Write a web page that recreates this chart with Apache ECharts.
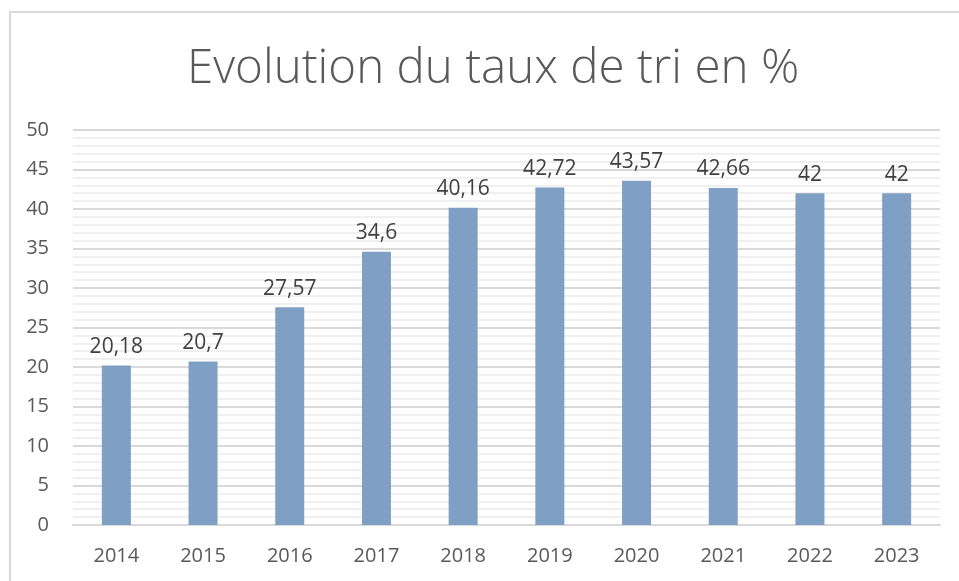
<!DOCTYPE html>
<html>
<head>
<meta charset="utf-8">
<script src="https://cdn.jsdelivr.net/npm/echarts@6/dist/echarts.min.js"></script>
<style>
    html, body { margin: 0; padding: 0; background: #fff; }
    #main { width: 959px; height: 581px; }
    #cadre {
        position: absolute; left: 9px; top: 11px;
        width: 1000px; height: 700px;
        border: 2px solid #d9d9d9; pointer-events: none;
    }
</style>
</head>
<body>
<div id="main"></div>
<div id="cadre"></div>
<script>
// années
let annees = ["2014", "2015", "2016", "2017", "2018", "2019", "2020", "2021", "2022", "2023"];
// taux de tri en %
let taux = [20.18, 20.7, 27.57, 34.6, 40.16, 42.72, 43.57, 42.66, 42, 42];

let chart = echarts.init(document.getElementById("main"));

let option = {
    animation: false,
    title: {
        text: "Evolution du taux de tri en %",
        left: 182,
        top: 40,
        textStyle: {
            fontFamily: "Open Sans",
            fontWeight: 300,
            fontSize: 47.5,
            color: "#595959"
        }
    },
    grid: { left: 73, right: 19, top: 130, bottom: 56 },
    xAxis: {
        type: "category",
        data: annees,
        axisTick: { show: false },
        axisLine: { lineStyle: { color: "#d9d9d9", width: 2 } },
        axisLabel: { fontFamily: "Open Sans", fontSize: 20, color: "#595959", margin: 21 }
    },
    yAxis: {
        type: "value",
        min: 0,
        max: 50,
        interval: 5,
        axisLabel: { fontFamily: "Open Sans", fontSize: 20, color: "#595959", margin: 24 },
        splitLine: { lineStyle: { color: "#d9d9d9", width: 2 } },
        minorTick: { show: false, splitNumber: 5 },
        minorSplitLine: { show: true, lineStyle: { color: "#f0f0f0", width: 2 } }
    },
    series: [
        {
            type: "bar",
            data: taux,
            barWidth: 29,
            itemStyle: { color: "#7f9fc4" },
            label: {
                show: true,
                position: "top",
                distance: 8,
                fontFamily: "Open Sans",
                fontSize: 21,
                color: "#404040",
                formatter: (p) => String(p.value).replace(".", ",")
            }
        }
    ]
};

chart.setOption(option);
</script>
</body>
</html>
